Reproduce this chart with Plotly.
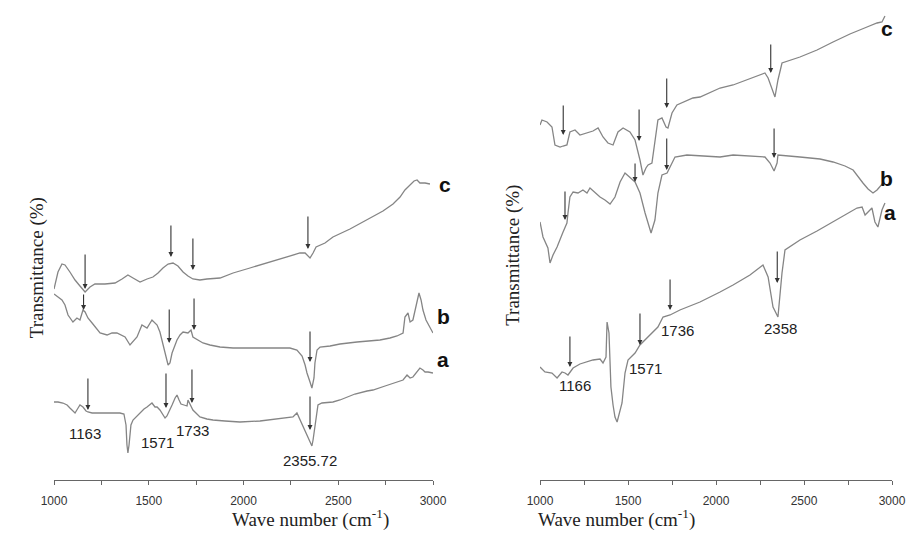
import plotly.graph_objects as go

# ---------------- data (wave number, transmittance a.u.) ----------------
# Left panel
L_c_wn = [1000,1021,1042,1058,1084,1111,1137,1164,1190,1216,1269,1322,1359,1390,1417,1454,1491,1522,1549,1575,1602,1628,1654,1681,1707,1733,1770,1807,1876,1945,2034,2124,2193,2261,2298,2325,2340,2351,2367,2383,2430,2472,2562,2652,2736,2789,2826,2852,2879,2900,2916,2931,2958,2984]
L_c_T = [191,208,216,215,208,200,194,188,193,196,196,197,201,205,202,198,201,203,207,212,216,217,214,208,204,201,200,201,202,207,212,217,221,225,227,227,224,222,227,233,237,243,251,260,269,276,283,290,295,299,300,297,297,296]

L_b_wn = [1000,1021,1042,1058,1074,1100,1121,1137,1153,1164,1179,1201,1222,1243,1280,1306,1332,1359,1375,1401,1422,1438,1464,1491,1517,1544,1559,1570,1586,1602,1612,1623,1639,1649,1665,1681,1707,1723,1733,1760,1786,1823,1876,1945,2018,2087,2166,2245,2282,2309,2325,2335,2351,2361,2372,2377,2388,2404,2457,2509,2599,2668,2720,2773,2810,2842,2852,2868,2879,2894,2910,2926,2937,2947,2963,2984,3000]
L_b_T = [186,183,180,175,165,158,162,160,170,168,162,157,152,147,145,147,147,144,143,135,140,143,155,152,160,155,148,140,127,115,117,127,135,140,145,148,147,150,143,140,137,135,133,132,132,132,132,132,130,124,115,107,98,92,102,117,130,133,134,136,138,139,140,142,144,147,163,167,158,160,175,187,180,170,160,153,147]

L_a_wn = [1000,1021,1047,1069,1084,1111,1127,1137,1153,1169,1179,1201,1243,1296,1348,1369,1380,1385,1390,1396,1401,1406,1417,1438,1454,1475,1491,1507,1517,1533,1544,1559,1575,1586,1596,1607,1623,1639,1649,1660,1670,1686,1702,1707,1718,1733,1749,1770,1807,1839,1902,1981,2087,2193,2261,2282,2298,2314,2330,2340,2351,2361,2367,2377,2388,2393,2414,2472,2509,2588,2652,2683,2747,2800,2842,2863,2879,2894,2916,2931,2947,2958,2974,3000]
L_a_T = [78,78,77,75,72,67,72,75,73,69,68,67,67,67,67,66,55,35,27,35,43,55,60,64,67,71,73,75,77,73,73,70,65,62,64,68,75,82,85,80,76,75,74,80,75,70,67,63,61,60,59,58,59,61,63,67,60,53,47,43,38,34,40,55,70,75,77,78,80,86,89,90,94,97,100,105,102,103,108,112,110,108,108,107]

# Right panel
R_c_wn = [1000,1011,1040,1068,1085,1114,1131,1153,1170,1199,1227,1267,1301,1330,1358,1386,1415,1443,1472,1511,1540,1568,1585,1602,1614,1636,1653,1670,1693,1716,1727,1750,1778,1869,1909,2023,2097,2193,2278,2296,2318,2335,2352,2375,2477,2574,2665,2761,2858,2915,2943,2960]
R_c_T = [355,360,358,353,335,333,334,335,348,350,345,347,349,352,343,337,335,348,352,348,340,320,305,312,315,317,337,360,362,353,352,367,375,382,383,392,395,401,407,402,390,383,400,417,423,430,438,446,453,457,458,464]

R_b_wn = [1000,1017,1045,1057,1074,1097,1131,1153,1159,1170,1188,1216,1244,1267,1284,1313,1341,1369,1398,1426,1455,1483,1511,1540,1568,1597,1631,1653,1670,1693,1722,1739,1767,1835,1909,2023,2097,2278,2307,2330,2347,2352,2477,2591,2665,2733,2779,2807,2835,2864,2892,2915,2932,2949]
R_b_T = [258,243,232,217,225,233,248,257,267,283,288,287,290,287,292,287,283,280,276,283,298,307,303,298,287,267,247,260,287,305,307,313,323,325,324,323,325,323,317,309,317,325,323,321,318,314,310,303,297,291,287,290,293,297]

R_a_wn = [1000,1028,1068,1097,1125,1142,1159,1188,1227,1267,1301,1341,1358,1375,1381,1392,1403,1415,1426,1438,1449,1466,1483,1500,1523,1540,1568,1597,1636,1670,1699,1739,1795,1909,2023,2097,2193,2267,2296,2324,2352,2375,2392,2477,2574,2665,2733,2801,2830,2847,2864,2886,2903,2920,2943,2960]
R_a_T = [113,108,107,102,108,107,105,112,116,118,120,121,117,123,158,147,93,75,63,58,65,77,107,120,124,127,135,140,147,153,163,165,170,178,188,195,205,215,203,173,163,207,230,240,249,258,265,272,273,265,268,272,258,253,270,277]

# Arrows: (wave number, tail T, tip T)
L_arrow_wn   = [1164,1617,1733,2340, 1156,1608,1739,2351, 1179,1591,1728,2351]
L_arrow_tail = [227,256,243,265, 187,172,183,150, 103,108,112,85]
L_arrow_tip  = [191,223,210,231, 170,137,150,118, 70,72,77,50]

R_arrow_wn   = [1132,1563,1720,2311, 1142,1540,1720,2330, 1170,1568,1739,2348]
R_arrow_tail = [376,372,403,437, 290,318,343,353, 145,168,202,230]
R_arrow_tip  = [345,339,372,407, 260,298,310,322, 113,135,170,197]

# Peak labels
L_peak_text = ["1163","1571","1733","2355.72"]
L_peak_wn   = [1164,1544,1733,2351]
L_peak_T    = [47,38,50,20]
R_peak_text = ["1166","1571","1736","2358"]
R_peak_wn   = [1199,1597,1784,2364]
R_peak_T    = [95,112,150,152]

# Series labels (placed just right of each panel's 3000 end)
series_names = ["a","b","c"]
L_name_wn = [3053,3053,3063]
L_name_T  = [107,150,296]
R_name_wn = [3034,3017,3017]
R_name_T  = [268,302,465]

major_ticks = [1000,1500,2000,2500,3000]
minor_step = 250

# ---------------- figure ----------------
W, H = 917, 548
LX0, LX1 = 54/W, 433/W
RX0, RX1 = 540/W, 892/W
Y_MAX = 480
LINE = "#858585"
fig = go.Figure()

for wn, T in [(L_a_wn, L_a_T), (L_b_wn, L_b_T), (L_c_wn, L_c_T)]:
    fig.add_trace(go.Scatter(x=wn, y=T, mode="lines", line=dict(color=LINE, width=1.3),
                             xaxis="x", yaxis="y", showlegend=False, hoverinfo="skip"))
for wn, T in [(R_a_wn, R_a_T), (R_b_wn, R_b_T), (R_c_wn, R_c_T)]:
    fig.add_trace(go.Scatter(x=wn, y=T, mode="lines", line=dict(color=LINE, width=1.3),
                             xaxis="x2", yaxis="y2", showlegend=False, hoverinfo="skip"))

ann = []
def arrows(wns, tails, tips, xr, yr):
    for w, t0, t1 in zip(wns, tails, tips):
        ann.append(dict(x=w, y=t1, ax=w, ay=t0, xref=xr, yref=yr, axref=xr, ayref=yr,
                        showarrow=True, arrowhead=2, arrowsize=0.9, arrowwidth=1.1,
                        arrowcolor="#333333", text=""))
arrows(L_arrow_wn, L_arrow_tail, L_arrow_tip, "x", "y")
arrows(R_arrow_wn, R_arrow_tail, R_arrow_tip, "x2", "y2")

numfont = dict(family="Arial, Liberation Sans", size=15, color="#222")
for txt, w, t in zip(L_peak_text, L_peak_wn, L_peak_T):
    ann.append(dict(x=w, y=t, xref="x", yref="y", text=txt, showarrow=False, font=numfont))
for txt, w, t in zip(R_peak_text, R_peak_wn, R_peak_T):
    ann.append(dict(x=w, y=t, xref="x2", yref="y2", text=txt, showarrow=False, font=numfont))

def wn_to_paper(w, x0, x1):
    return x0 + (w - 1000) / 2000 * (x1 - x0)

namefont = dict(family="Arial, Liberation Sans", size=21, color="#111")
for nm, w, t in zip(series_names, L_name_wn, L_name_T):
    ann.append(dict(x=wn_to_paper(w, LX0, LX1), y=t / Y_MAX, xref="paper", yref="paper",
                    text="<b>%s</b>" % nm, showarrow=False, font=namefont))
for nm, w, t in zip(series_names, R_name_wn, R_name_T):
    ann.append(dict(x=wn_to_paper(w, RX0, RX1), y=t / Y_MAX, xref="paper", yref="paper",
                    text="<b>%s</b>" % nm, showarrow=False, font=namefont))

serif = dict(family="Liberation Serif, Times New Roman, serif", size=19, color="#222")
ann.append(dict(x=230/W, y=-0.110, xref="paper", yref="paper", showarrow=False,
                text="Wave number (cm<sup>-1</sup>)", font=serif))
ann.append(dict(x=697/W, y=-0.110, xref="paper", yref="paper", showarrow=False,
                text="Wave number (cm<sup>-1</sup>)", font=serif))
ann.append(dict(x=24/W, y=0.29, xref="paper", yref="paper", showarrow=False,
                text="Transmittance (%)", textangle=-90, font=serif))
ann.append(dict(x=513/W, y=0.467, xref="paper", yref="paper", showarrow=False,
                text="Transmittance (%)", textangle=-90, font=serif))

xcommon = dict(range=[1000, 3000], tickvals=major_ticks, showline=True,
               linecolor="#666", linewidth=1.2, ticks="outside", ticklen=4, tickwidth=1.2,
               tickcolor="#666", showgrid=False, zeroline=False, ticklabelstandoff=5,
               automargin=False,
               minor=dict(dtick=minor_step, tick0=1000, ticks="outside", ticklen=4,
                          tickwidth=1.2, tickcolor="#666", showgrid=False),
               tickfont=dict(family="Arial, Liberation Sans", size=12, color="#333"))
ycommon = dict(range=[0, Y_MAX], visible=False, showgrid=False, zeroline=False, automargin=False)

fig.update_layout(
    width=W, height=H, margin=dict(l=0, r=0, t=0, b=68, autoexpand=False),
    paper_bgcolor="white", plot_bgcolor="white",
    xaxis=dict(domain=[LX0, LX1], anchor="y", **xcommon),
    xaxis2=dict(domain=[RX0, RX1], anchor="y2", **xcommon),
    yaxis=dict(anchor="x", **ycommon),
    yaxis2=dict(anchor="x2", **ycommon),
    annotations=ann,
)
fig.write_html("out.html")
